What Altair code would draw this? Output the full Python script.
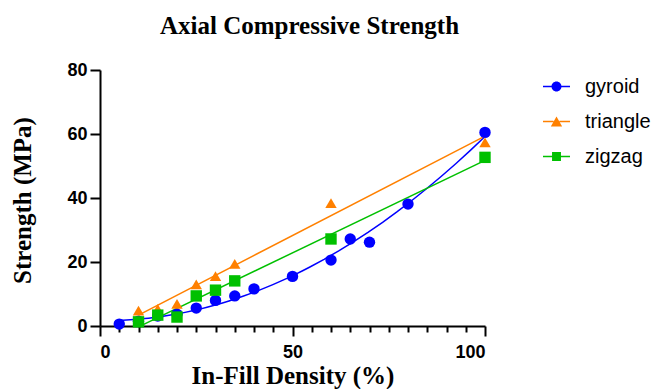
import altair as alt
import pandas as pd

series_names = ["gyroid", "triangle", "zigzag"]
series_colors = ["#0000FF", "#FF8000", "#00C000"]
plot_shapes = ["circle", "triangle-up", "square"]
legend_shapes = [
    "M-1,-0.055H-0.3V0.055H-1ZM0.3,-0.055H1V0.055H0.3Z"
    "M0.37,0A0.37,0.37,0,1,1,-0.37,0A0.37,0.37,0,1,1,0.37,0Z",
    "M-1,-0.055H-0.22V0.055H-1ZM0.22,-0.055H1V0.055H0.22Z"
    "M0,-0.37L0.42,0.37L-0.42,0.37Z",
    "M-1,-0.055H-0.33V0.055H-1ZM0.33,-0.055H1V0.055H0.33Z"
    "M-0.33,-0.33H0.33V0.33H-0.33Z",
]

gyroid_x = [5, 10, 15, 20, 25, 30, 35, 40, 50, 60, 65, 70, 80, 100]
gyroid_y = [0.6, 1.5, 3.1, 3.7, 5.6, 8.0, 9.4, 11.6, 15.5, 20.6, 27.2, 26.2, 38.1, 60.5]
triangle_x = [10, 15, 20, 25, 30, 35, 60, 100]
triangle_y = [4.8, 5.3, 6.9, 13.0, 15.6, 19.4, 38.4, 57.4]
zigzag_x = [10, 15, 20, 25, 30, 35, 60, 100]
zigzag_y = [1.3, 3.4, 2.8, 9.4, 11.2, 14.1, 27.2, 52.7]

x_major = [0, 50, 100]
x_minor = [5, 10, 15, 20, 25, 30, 35, 40, 45, 55, 60, 65, 70, 75, 80, 85, 90, 95]
y_ticks = [0, 20, 40, 60, 80]

rows = []
for name, xs, ys in [("gyroid", gyroid_x, gyroid_y),
                     ("triangle", triangle_x, triangle_y),
                     ("zigzag", zigzag_x, zigzag_y)]:
    for xv, yv in zip(xs, ys):
        rows.append({"density": xv, "strength": yv, "series": name})
df = pd.DataFrame(rows)

xscale = alt.Scale(domain=[0, 100], nice=False)
yscale = alt.Scale(domain=[0, 80], nice=False)
cscale = alt.Scale(domain=series_names, range=series_colors)

yaxis = alt.Axis(values=y_ticks, tickSize=10, labelPadding=3, title="Strength (MPa)",
                 titleX=-78, titleY=130, titleAngle=-90, titleBaseline="middle",
                 titleAlign="center")

base = alt.Chart(df)

gyroid_fit = base.transform_filter(alt.datum.series == "gyroid").transform_regression(
    "density", "strength", method="poly", order=2, groupby=["series"]
).mark_line(strokeWidth=1.5).encode(
    x=alt.X("density:Q", scale=xscale, axis=None),
    y=alt.Y("strength:Q", scale=yscale, axis=yaxis),
    color=alt.Color("series:N", scale=cscale, legend=None),
)

lin_fit = base.transform_filter(alt.datum.series != "gyroid").transform_regression(
    "density", "strength", method="linear", groupby=["series"]
).mark_line(strokeWidth=1.5).encode(
    x=alt.X("density:Q", scale=xscale,
            axis=alt.Axis(orient="bottom", values=x_minor, tickSize=6, labels=False,
                          domain=False, title=None)),
    y=alt.Y("strength:Q", scale=yscale, axis=yaxis),
    color=alt.Color("series:N", scale=cscale, legend=None),
)

points = base.mark_point(filled=True, size=130, opacity=1).encode(
    x=alt.X("density:Q", scale=xscale,
            axis=alt.Axis(orient="bottom", values=x_major, tickSize=10, labelPadding=7,
                          title="In-Fill Density (%)", titleY=49, titleBaseline="middle")),
    y=alt.Y("strength:Q", scale=yscale, axis=yaxis),
    color=alt.Color("series:N", scale=cscale, legend=None),
    shape=alt.Shape("series:N", scale=alt.Scale(domain=series_names, range=plot_shapes),
                    legend=None),
)

leg = dict(title=None, orient="none", legendX=443, legendY=3)
# legend-only layer: no rows drawn, entries come from the explicit scale domains
legend_layer = base.transform_filter(alt.datum.density < 0).mark_point(
    filled=True, size=120, opacity=1
).encode(
    x=alt.X("density:Q", scale=xscale, axis=None),
    y=alt.Y("strength:Q", scale=yscale, axis=yaxis),
    color=alt.Color("series:N", scale=cscale,
                    legend=alt.Legend(symbolSize=729, symbolOpacity=1, symbolStrokeWidth=0,
                                      labelFontSize=20, labelFont="Liberation Sans",
                                      labelOffset=15, rowPadding=11, padding=0,
                                      labelColor="black", **leg)),
    shape=alt.Shape("series:N", scale=alt.Scale(domain=series_names, range=legend_shapes),
                    legend=alt.Legend(**leg)),
)

chart = alt.layer(gyroid_fit, lin_fit, points, legend_layer).resolve_scale(
    color="independent", shape="independent"
).resolve_axis(x="independent").properties(
    width=385, height=256,
    autosize=alt.AutoSizeParams(type="none"),
    padding={"left": 100, "top": 70, "right": 171, "bottom": 63},
    title=alt.Title("Axial Compressive Strength", font="Liberation Serif", fontSize=25,
                    fontWeight="bold", color="black", offset=22, dx=17),
).configure_view(stroke=None).configure_axis(
    grid=False, domainColor="black", domainWidth=2, tickColor="black", tickWidth=2,
    labelFont="Liberation Sans", labelFontSize=18, labelFontWeight="bold", labelColor="black",
    titleFont="Liberation Serif", titleFontSize=25, titleFontWeight="bold", titleColor="black",
)

chart.save("out.html", embed_options={"renderer": "svg", "actions": False})
